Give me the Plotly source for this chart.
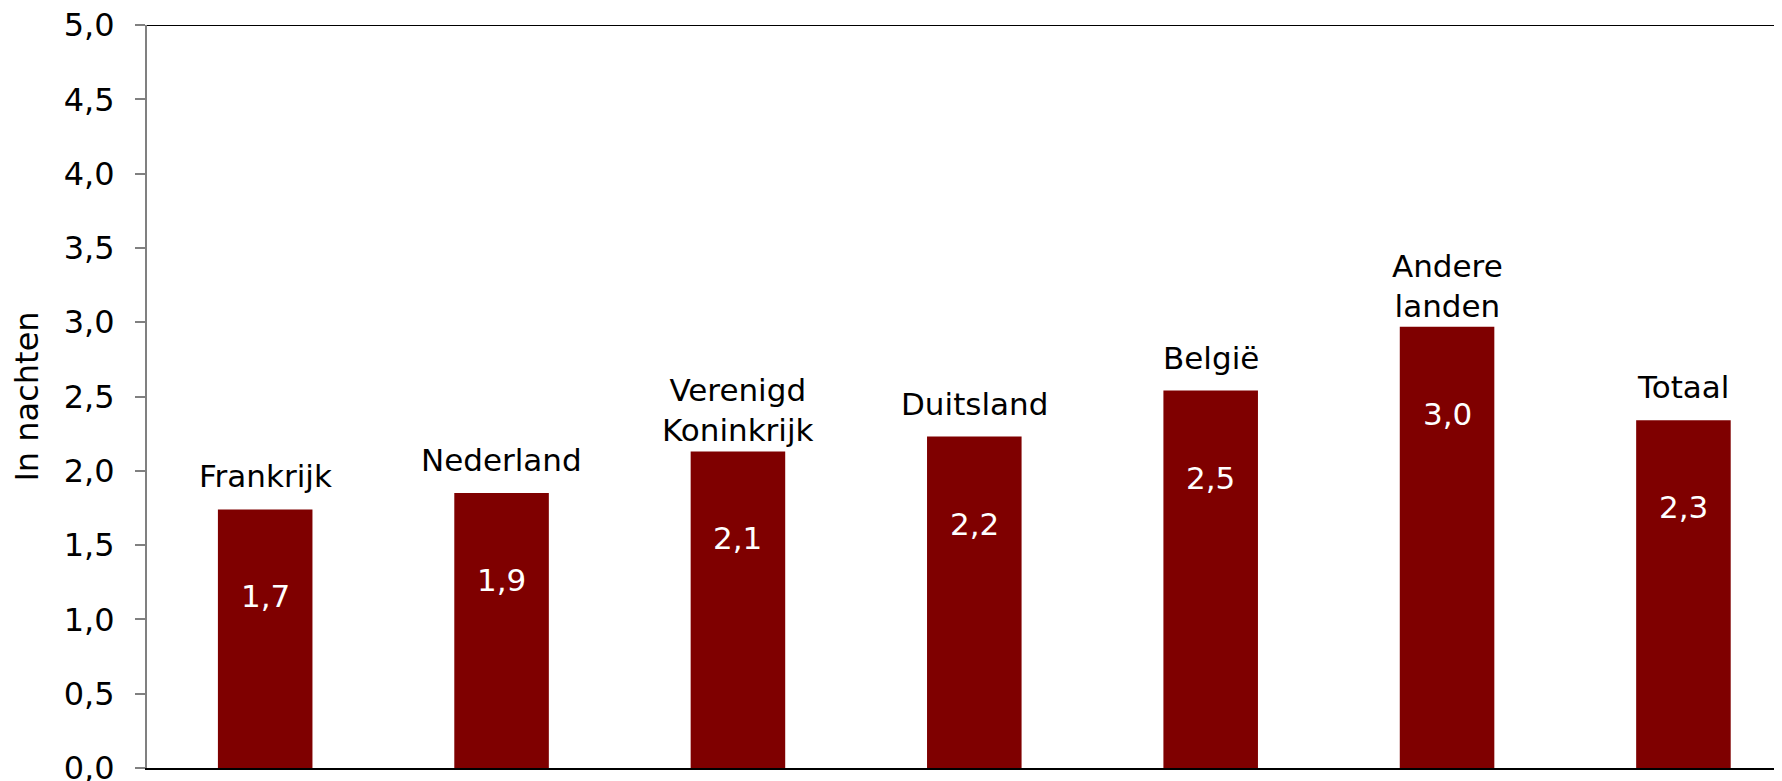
import plotly.graph_objects as go

categories = ["Frankrijk", "Nederland", "Verenigd Koninkrijk", "Duitsland", "België", "Andere landen", "Totaal"]
cat_labels = ["Frankrijk", "Nederland", "Verenigd<br>Koninkrijk", "Duitsland", "België", "Andere<br>landen", "Totaal"]
values = [1.74, 1.85, 2.13, 2.23, 2.54, 2.97, 2.34]
value_labels = ["1,7", "1,9", "2,1", "2,2", "2,5", "3,0", "2,3"]
tick_vals = [0, 0.5, 1, 1.5, 2, 2.5, 3, 3.5, 4, 4.5, 5]
tick_text = ["0,0", "0,5", "1,0", "1,5", "2,0", "2,5", "3,0", "3,5", "4,0", "4,5", "5,0"]

FONT = "DejaVu Sans"
FS = 31

fig = go.Figure()
fig.add_trace(go.Bar(
    x=list(range(len(categories))), y=values,
    width=0.4, marker=dict(color="#7F0000", line=dict(width=0)),
    hovertext=categories,
))

ann = []
for i, (v, lab, vl) in enumerate(zip(values, cat_labels, value_labels)):
    nlines = lab.count("<br>") + 1
    ann.append(dict(x=i, y=v, xref="x", yref="y", text=lab, showarrow=False,
                    yanchor="bottom", yshift=13 - 12 * (nlines - 1),
                    font=dict(family=FONT, size=FS, color="#000000")))
    ann.append(dict(x=i, y=v, xref="x", yref="y", text=vl, showarrow=False,
                    yanchor="middle", yshift=-87, font=dict(family=FONT, size=FS, color="#FFFFFF")))

# page has an 8px body margin; compensate so plot lands where the reference has it
fig.update_layout(
    width=1774, height=773,
    margin=dict(l=139, r=0, t=17, b=13, autoexpand=False),
    paper_bgcolor="white", plot_bgcolor="white",
    showlegend=False,
    font=dict(family=FONT, size=FS, color="#000000"),
    annotations=ann,
    xaxis=dict(range=[-0.5, 6.417], showticklabels=False, ticks="", automargin=False,
               showgrid=False, zeroline=False, showline=True, linecolor="#000000", linewidth=2),
    yaxis=dict(range=[0, 5], tickvals=tick_vals, ticktext=tick_text, automargin=False,
               tickfont=dict(family=FONT, size=32), ticklabeloverflow="allow",
               ticks="outside", ticklen=10, tickwidth=2, tickcolor="#808080",
               showgrid=False, zeroline=False, showline=True, linecolor="#808080", linewidth=2,
               ticklabelstandoff=14,
               title=dict(text="In nachten", standoff=29, font=dict(family=FONT, size=32))),
)
fig.add_shape(type="line", xref="paper", yref="y", x0=0, x1=1, y0=5, y1=5,
              line=dict(color="#000000", width=2))
fig.write_html("out.html")
